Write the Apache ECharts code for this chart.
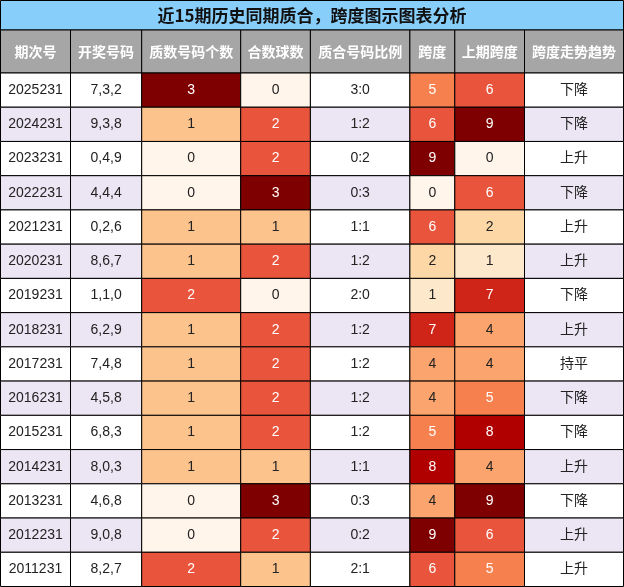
<!DOCTYPE html>
<html><head><meta charset="utf-8">
<script src="https://cdn.jsdelivr.net/npm/echarts@6/dist/echarts.min.js"></script>
<style>html,body{margin:0;padding:0;background:#fff}#c{width:624px;height:587px}</style>
</head><body><div id="c"></div>
<script>
const title = '近15期历史同期质合，跨度图示图表分析';
const headers = ['期次号','开奖号码','质数号码个数','合数球数','质合号码比例','跨度','上期跨度','跨度走势趋势'];
const periods = ['2025231','2024231','2023231','2022231','2021231','2020231','2019231','2018231','2017231','2016231','2015231','2014231','2013231','2012231','2011231'];
const draws = ['7,3,2','9,3,8','0,4,9','4,4,4','0,2,6','8,6,7','1,1,0','6,2,9','7,4,8','4,5,8','6,8,3','8,0,3','4,6,8','9,0,8','8,2,7'];
const primeCount = [3,1,0,0,1,1,2,1,1,1,1,1,0,0,2];
const compCount = [0,2,2,3,1,2,0,2,2,2,2,1,3,2,1];
const span = [5,6,9,0,6,2,1,7,4,4,5,8,4,9,6];
const prevSpan = [6,9,0,6,2,1,7,4,4,5,8,4,9,6,5];
const trend = ['下降','下降','上升','下降','上升','上升','下降','上升','持平','下降','下降','上升','下降','上升','上升'];

// layout
const colEdges = [0.5,70.5,141.7,240.7,310.4,409.9,454.8,524.5,623.5];
const titleH = 30, headH = 43, bodyTop = titleH + headH, rowH = (586.5 - bodyTop) / 15;
const countColors = ['#fff5eb','#fdc38d','#e8553c','#7f0000'];
const spanColors = ['#fff5eb','#fee8cb','#fdd7a6','#fdbf86','#fca46d','#f6814f','#e8553c','#cf2518','#b10000','#7f0000'];

const cells = [];
cells.push({kind:'title', text:title});
headers.forEach((h,i)=>cells.push({kind:'head', col:i, text:h}));
periods.forEach((p,r)=>{
  const band = r % 2 ? '#ece6f4' : '#ffffff';
  const vals = [
    [p, band, '#222'],
    [draws[r], band, '#222'],
    [String(primeCount[r]), countColors[primeCount[r]], primeCount[r]>=2?'#fff':'#222'],
    [String(compCount[r]), countColors[compCount[r]], compCount[r]>=2?'#fff':'#222'],
    [primeCount[r]+':'+compCount[r], band, '#222'],
    [String(span[r]), spanColors[span[r]], span[r]>=5?'#fff':'#222'],
    [String(prevSpan[r]), spanColors[prevSpan[r]], prevSpan[r]>=5?'#fff':'#222'],
    [trend[r], band, '#222']
  ];
  vals.forEach((v,c)=>cells.push({kind:'cell', col:c, row:r, text:v[0], fill:v[1], color:v[2]}));
});

const chart = echarts.init(document.getElementById('c'));
chart.setOption({
  animation:false,
  grid:{left:0,right:0,top:0,bottom:0},
  xAxis:{type:'value',min:0,max:624,show:false},
  yAxis:{type:'value',min:0,max:587,inverse:true,show:false},
  series:[{
    type:'custom',
    data:cells.map((c,i)=>[i,0]),
    renderItem:(params,api)=>{
      const d = cells[params.dataIndex];
      let x0,x1,y0,y1,fill,color,font;
      if(d.kind==='title'){x0=0.5;x1=623.5;y0=0.5;y1=titleH;fill='#87cefa';color='#111';font='bold 17px "Noto Sans CJK SC", sans-serif';}
      else if(d.kind==='head'){x0=colEdges[d.col];x1=colEdges[d.col+1];y0=titleH;y1=bodyTop;fill='#a6a6a6';color='#fff';font='bold 14px "Noto Sans CJK SC", sans-serif';}
      else {x0=colEdges[d.col];x1=colEdges[d.col+1];y0=bodyTop+d.row*rowH;y1=y0+rowH;fill=d.fill;color=d.color;font='14px "Liberation Sans","Noto Sans CJK SC", sans-serif';}
      const p0 = api.coord([x0,y0]), p1 = api.coord([x1,y1]);
      return {type:'group',children:[
        {type:'rect',shape:{x:p0[0],y:p0[1],width:p1[0]-p0[0],height:p1[1]-p0[1]},style:{fill:fill,stroke:'#000',lineWidth:1}},
        {type:'text',x:(p0[0]+p1[0])/2,y:(p0[1]+p1[1])/2,style:{text:d.text,font:font,fill:color,align:'center',verticalAlign:'middle'}}
      ]};
    }
  }]
});
</script></body></html>
